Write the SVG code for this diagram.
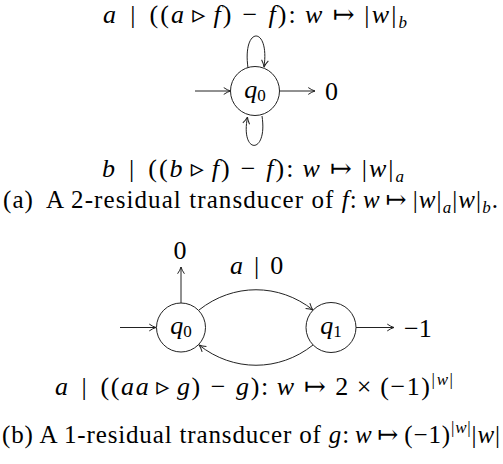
<svg xmlns="http://www.w3.org/2000/svg" width="503" height="464" viewBox="0 0 503 464">
<style>
.t{font-family:"Liberation Serif","DejaVu Serif",serif;font-size:26px;fill:#000}
.c{font-family:"Liberation Serif","DejaVu Serif",serif;font-size:25px;fill:#000}
.i{font-style:italic}
.s{font-size:17px}
.st{fill:#fff;stroke:#222;stroke-width:1}
.e{fill:none;stroke:#222;stroke-width:1}
</style>
<defs>
<marker id="ar" viewBox="0 0 10 10" refX="9.5" refY="5" markerWidth="9" markerHeight="9" orient="auto" markerUnits="userSpaceOnUse">
<path d="M2,1.2 Q6,4 9.5,5 Q6,6 2,8.8" fill="none" stroke="#222" stroke-width="1.1"/>
</marker>
</defs>

<g id="connectors">
<path class="e" d="M195,91 L230.5,91" marker-end="url(#ar)"/>
<path class="e" d="M279.5,91 L315,91" marker-end="url(#ar)"/>
<path class="e" d="M248,68 C242,25.5 270,25.5 264,67" marker-end="url(#ar)"/>
<path class="e" d="M262,116 C268,155 240,155 247.5,117" marker-end="url(#ar)"/>
<path class="e" d="M120,327.5 L156,327.5" marker-end="url(#ar)"/>
<path class="e" d="M181,303 L181,267" marker-end="url(#ar)"/>
<path class="e" d="M356,327.5 L394,327.5" marker-end="url(#ar)"/>
<path class="e" d="M199,310 C233,283 279,283 313,310" marker-end="url(#ar)"/>
<path class="e" d="M313,345 C279,372 233,372 199,345" marker-end="url(#ar)"/>
</g>

<g id="q0a">
<circle class="st" cx="255" cy="91" r="24.5"/>
<text class="t" x="255" y="97.5" text-anchor="middle"><tspan class="i">q</tspan><tspan class="s" dy="3">0</tspan></text>
</g>
<g id="q0b">
<circle class="st" cx="181" cy="327.5" r="24.5"/>
<text class="t" x="181" y="334" text-anchor="middle"><tspan class="i">q</tspan><tspan class="s" dy="3">0</tspan></text>
</g>
<g id="q1b">
<circle class="st" cx="331" cy="327.5" r="25"/>
<text class="t" x="331" y="334" text-anchor="middle"><tspan class="i">q</tspan><tspan class="s" dy="3">1</tspan></text>
</g>

<g id="labels">
<text class="t" x="103" y="23" textLength="304"><tspan class="i">a</tspan><tspan dx="12">|</tspan><tspan dx="12">((</tspan><tspan class="i">a</tspan><tspan dx="6">▹</tspan><tspan class="i" dx="6">f</tspan>)<tspan dx="9">−</tspan><tspan class="i" dx="9">f</tspan>):<tspan class="i" dx="7">w</tspan><tspan dx="8">↦</tspan><tspan dx="8">|</tspan><tspan class="i">w</tspan>|<tspan class="s i" dy="5">b</tspan></text>
<text class="t" x="325" y="100">0</text>
<text class="t" x="102" y="177" textLength="302"><tspan class="i">b</tspan><tspan dx="12">|</tspan><tspan dx="12">((</tspan><tspan class="i">b</tspan><tspan dx="6">▹</tspan><tspan class="i" dx="6">f</tspan>)<tspan dx="9">−</tspan><tspan class="i" dx="9">f</tspan>):<tspan class="i" dx="7">w</tspan><tspan dx="8">↦</tspan><tspan dx="8">|</tspan><tspan class="i">w</tspan>|<tspan class="s i" dy="5">a</tspan></text>
<text class="c" x="3" y="208" textLength="495">(a)<tspan dx="12">A 2-residual transducer of </tspan><tspan class="i">f</tspan>:<tspan class="i" dx="5">w</tspan><tspan dx="5">↦</tspan><tspan dx="5">|</tspan><tspan class="i">w</tspan>|<tspan class="s i" dy="5">a</tspan><tspan dy="-5">|</tspan><tspan class="i">w</tspan>|<tspan class="s i" dy="5">b</tspan><tspan dy="-5">.</tspan></text>
<text class="t" x="180" y="258.5" text-anchor="middle">0</text>
<text class="t" x="230" y="274"><tspan class="i">a</tspan><tspan dx="11">|</tspan><tspan dx="11">0</tspan></text>
<text class="t" x="404" y="336.5">−1</text>
<text class="t" x="55" y="395" textLength="398"><tspan class="i">a</tspan><tspan dx="12">|</tspan><tspan dx="12">((</tspan><tspan class="i">aa</tspan><tspan dx="6">▹</tspan><tspan class="i" dx="6">g</tspan>)<tspan dx="9">−</tspan><tspan class="i" dx="9">g</tspan>):<tspan class="i" dx="7">w</tspan><tspan dx="8">↦</tspan><tspan dx="8">2</tspan><tspan dx="7">×</tspan><tspan dx="7">(−1)</tspan><tspan class="s" dy="-10">|</tspan><tspan class="s i">w</tspan><tspan class="s">|</tspan></text>
<text class="c" x="2" y="443" textLength="498">(b) A 1-residual transducer of <tspan class="i">g</tspan>:<tspan class="i" dx="5">w</tspan><tspan dx="5">↦</tspan><tspan dx="5">(−1)</tspan><tspan class="s" dy="-10">|</tspan><tspan class="s i">w</tspan><tspan class="s">|</tspan><tspan dy="10">|</tspan><tspan class="i">w</tspan>|</text>
</g>
</svg>
